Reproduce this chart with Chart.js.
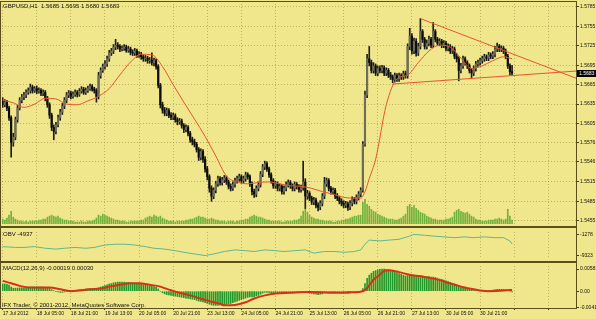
<!DOCTYPE html>
<html><head><meta charset="utf-8">
<title>GBPUSD,H1</title>
<script src="https://cdn.jsdelivr.net/npm/chart.js@4.4.1/dist/chart.umd.min.js"></script>
<style>
html,body{margin:0;padding:0;background:#F0E68C;}
#wrap{position:relative;width:596px;height:319px;overflow:hidden;background:#F0E68C;font-family:"Liberation Sans",Arial,sans-serif;}
#wrap canvas{position:absolute;left:0;}
.t{position:absolute;font-size:6px;line-height:7px;color:#111;white-space:pre;}
.ln{position:absolute;background:#5b4e1a;}
#pbox{position:absolute;left:577px;width:19px;height:7px;background:#000;color:#fff;font-size:5px;line-height:7px;padding-left:2px;box-sizing:border-box;white-space:pre;}
</style></head>
<body>
<div id="wrap">
 <canvas id="cMain" width="596" height="228" style="top:0px"></canvas>
 <canvas id="cObv" width="596" height="34" style="top:228px"></canvas>
 <canvas id="cMacd" width="596" height="57" style="top:262px"></canvas>
 <div class="ln" style="left:0;top:1px;width:577px;height:1px"></div>
 <div class="ln" style="left:0;top:1px;width:1px;height:308px"></div>
 <div class="ln" style="left:0;top:226px;width:577px;height:2px"></div>
 <div class="ln" style="left:0;top:261px;width:577px;height:2px"></div>
 <div class="ln" style="left:0;top:308px;width:577px;height:1px"></div>
 <div class="ln" style="left:576px;top:1px;width:1px;height:308px"></div>
 <div class="t" id="tMain" style="left:3px;top:3px"></div>
 <div class="t" id="tObv" style="left:3px;top:231px"></div>
 <div class="t" id="tMacd" style="left:3px;top:265px"></div>
 <div class="t" style="left:2px;top:302px">IFX Trader, © 2001-2012, MetaQuotes Software Corp.</div>
 <div id="pbox"></div>
</div>
<script>
// ---------------- DATA ----------------
const symbolName = "GBPUSD,H1";
const timeBars = [0,16,32,48,64,80,96,112,128,144,160,176,192,208,224];
const timeLabels = ["17 Jul 2012","18 Jul 05:00","18 Jul 21:00","19 Jul 13:00","20 Jul 05:00","20 Jul 21:00","23 Jul 13:00","24 Jul 05:00","24 Jul 21:00","25 Jul 13:00","26 Jul 05:00","26 Jul 21:00","27 Jul 13:00","30 Jul 05:00","30 Jul 21:00"];
const gridBars = [0,16,32,48,64,80,96,112,128,144,160,176,192,208,224,240,256];
const priceTicks = [1.5785,1.5755,1.5725,1.5695,1.5665,1.5635,1.5605,1.5576,1.5546,1.5515,1.5485,1.5455];
const obvTicks = [-1278,-9323];
const macdTicks = [0.00581,0,-0.00419];

const open = [
1.5640,1.5634,1.5638,1.5629,1.5614,1.5576,1.5584,1.5611,1.5629,1.5641,
1.5646,1.5649,1.5653,1.5656,1.5661,1.5656,1.5659,1.5655,1.5656,1.5652,
1.5653,1.5644,1.5634,1.5618,1.5599,1.5593,1.5603,1.5614,1.5623,1.5632,
1.5641,1.5649,1.5652,1.5647,1.5650,1.5653,1.5650,1.5655,1.5658,1.5653,
1.5656,1.5659,1.5662,1.5658,1.5656,1.5647,1.5679,1.5687,1.5693,1.5697,
1.5705,1.5714,1.5717,1.5723,1.5726,1.5724,1.5720,1.5721,1.5723,1.5718,
1.5720,1.5715,1.5714,1.5717,1.5711,1.5712,1.5708,1.5705,1.5706,1.5702,
1.5703,1.5699,1.5702,1.5693,1.5664,1.5634,1.5626,1.5621,1.5625,1.5618,
1.5615,1.5617,1.5611,1.5608,1.5609,1.5602,1.5596,1.5599,1.5590,1.5580,
1.5577,1.5573,1.5565,1.5553,1.5562,1.5550,1.5535,1.5523,1.5505,1.5493,
1.5502,1.5512,1.5520,1.5514,1.5518,1.5521,1.5515,1.5508,1.5505,1.5511,
1.5517,1.5520,1.5523,1.5517,1.5520,1.5526,1.5523,1.5512,1.5500,1.5496,
1.5505,1.5511,1.5527,1.5538,1.5543,1.5535,1.5526,1.5517,1.5509,1.5512,
1.5505,1.5508,1.5500,1.5505,1.5511,1.5514,1.5509,1.5505,1.5511,1.5508,
1.5503,1.5506,1.5515,1.5493,1.5497,1.5490,1.5484,1.5487,1.5479,1.5476,
1.5482,1.5493,1.5512,1.5517,1.5505,1.5500,1.5502,1.5493,1.5490,1.5485,
1.5482,1.5479,1.5481,1.5476,1.5482,1.5488,1.5485,1.5491,1.5496,1.5502,
1.5573,1.5649,1.5705,1.5699,1.5687,1.5694,1.5683,1.5690,1.5687,1.5691,
1.5683,1.5687,1.5680,1.5677,1.5673,1.5679,1.5674,1.5679,1.5677,1.5682,
1.5679,1.5724,1.5740,1.5717,1.5732,1.5714,1.5724,1.5747,1.5735,1.5724,
1.5729,1.5735,1.5726,1.5747,1.5735,1.5729,1.5732,1.5726,1.5729,1.5721,
1.5724,1.5717,1.5720,1.5709,1.5705,1.5687,1.5694,1.5705,1.5699,1.5694,
1.5687,1.5683,1.5690,1.5697,1.5699,1.5702,1.5705,1.5708,1.5706,1.5711,
1.5709,1.5712,1.5720,1.5724,1.5720,1.5721,1.5717,1.5709,1.5694,1.5685];

const high = [
1.5645,1.5642,1.5641,1.5632,1.5617,1.5590,1.5615,1.5633,1.5645,1.5650,
1.5653,1.5657,1.5660,1.5666,1.5664,1.5662,1.5663,1.5660,1.5659,1.5657,
1.5656,1.5647,1.5637,1.5621,1.5603,1.5607,1.5618,1.5627,1.5636,1.5645,
1.5653,1.5656,1.5655,1.5654,1.5657,1.5656,1.5659,1.5662,1.5661,1.5660,
1.5663,1.5666,1.5665,1.5661,1.5659,1.5684,1.5691,1.5697,1.5702,1.5709,
1.5718,1.5721,1.5727,1.5735,1.5730,1.5727,1.5725,1.5727,1.5726,1.5724,
1.5723,1.5719,1.5721,1.5720,1.5716,1.5715,1.5711,1.5710,1.5709,1.5707,
1.5714,1.5706,1.5705,1.5696,1.5667,1.5638,1.5630,1.5629,1.5628,1.5622,
1.5621,1.5620,1.5614,1.5613,1.5612,1.5605,1.5603,1.5602,1.5593,1.5584,
1.5581,1.5576,1.5568,1.5566,1.5565,1.5554,1.5539,1.5526,1.5509,1.5506,
1.5516,1.5524,1.5523,1.5522,1.5525,1.5524,1.5518,1.5512,1.5515,1.5521,
1.5524,1.5527,1.5526,1.5524,1.5530,1.5529,1.5526,1.5515,1.5504,1.5509,
1.5515,1.5531,1.5542,1.5547,1.5546,1.5538,1.5529,1.5520,1.5516,1.5515,
1.5512,1.5511,1.5509,1.5515,1.5518,1.5517,1.5512,1.5515,1.5514,1.5511,
1.5510,1.5547,1.5520,1.5502,1.5500,1.5493,1.5491,1.5490,1.5483,1.5486,
1.5497,1.5522,1.5521,1.5520,1.5508,1.5506,1.5505,1.5497,1.5493,1.5489,
1.5486,1.5485,1.5484,1.5486,1.5492,1.5491,1.5495,1.5500,1.5506,1.5577,
1.5655,1.5712,1.5724,1.5703,1.5699,1.5697,1.5694,1.5694,1.5695,1.5694,
1.5691,1.5690,1.5684,1.5680,1.5683,1.5682,1.5683,1.5682,1.5686,1.5686,
1.5728,1.5752,1.5744,1.5737,1.5736,1.5729,1.5767,1.5750,1.5738,1.5734,
1.5740,1.5738,1.5761,1.5750,1.5738,1.5736,1.5735,1.5733,1.5732,1.5728,
1.5727,1.5724,1.5723,1.5713,1.5708,1.5698,1.5709,1.5708,1.5702,1.5697,
1.5690,1.5694,1.5701,1.5703,1.5706,1.5709,1.5712,1.5711,1.5715,1.5714,
1.5716,1.5724,1.5729,1.5727,1.5725,1.5724,1.5720,1.5712,1.5697,1.5695];

const low = [
1.5630,1.5631,1.5625,1.5610,1.5553,1.5570,1.5580,1.5607,1.5626,1.5637,
1.5642,1.5645,1.5650,1.5652,1.5652,1.5653,1.5651,1.5652,1.5648,1.5648,
1.5640,1.5630,1.5613,1.5594,1.5580,1.5589,1.5600,1.5610,1.5619,1.5628,
1.5637,1.5645,1.5643,1.5644,1.5647,1.5646,1.5647,1.5652,1.5650,1.5650,
1.5653,1.5656,1.5655,1.5652,1.5638,1.5643,1.5675,1.5684,1.5689,1.5693,
1.5701,1.5710,1.5713,1.5719,1.5720,1.5716,1.5717,1.5718,1.5715,1.5715,
1.5711,1.5710,1.5710,1.5707,1.5707,1.5704,1.5701,1.5701,1.5698,1.5698,
1.5695,1.5694,1.5689,1.5660,1.5629,1.5621,1.5617,1.5617,1.5614,1.5611,
1.5611,1.5607,1.5603,1.5604,1.5598,1.5591,1.5592,1.5586,1.5576,1.5572,
1.5569,1.5561,1.5548,1.5549,1.5545,1.5530,1.5518,1.5499,1.5485,1.5489,
1.5498,1.5508,1.5510,1.5510,1.5514,1.5511,1.5504,1.5501,1.5502,1.5507,
1.5513,1.5516,1.5513,1.5513,1.5516,1.5519,1.5508,1.5495,1.5491,1.5492,
1.5501,1.5507,1.5523,1.5534,1.5531,1.5522,1.5513,1.5505,1.5505,1.5501,
1.5501,1.5496,1.5496,1.5501,1.5507,1.5505,1.5501,1.5501,1.5504,1.5499,
1.5499,1.5502,1.5474,1.5488,1.5486,1.5480,1.5480,1.5475,1.5470,1.5472,
1.5478,1.5489,1.5508,1.5501,1.5496,1.5496,1.5489,1.5486,1.5481,1.5478,
1.5475,1.5475,1.5471,1.5472,1.5478,1.5481,1.5481,1.5487,1.5492,1.5499,
1.5570,1.5645,1.5694,1.5683,1.5683,1.5679,1.5679,1.5683,1.5683,1.5679,
1.5679,1.5676,1.5673,1.5668,1.5669,1.5670,1.5670,1.5673,1.5673,1.5675,
1.5675,1.5719,1.5712,1.5713,1.5709,1.5710,1.5720,1.5730,1.5720,1.5720,
1.5725,1.5722,1.5722,1.5731,1.5725,1.5725,1.5722,1.5722,1.5717,1.5717,
1.5713,1.5713,1.5705,1.5700,1.5671,1.5683,1.5690,1.5695,1.5690,1.5683,
1.5676,1.5679,1.5686,1.5693,1.5695,1.5698,1.5701,1.5702,1.5702,1.5705,
1.5705,1.5708,1.5716,1.5716,1.5716,1.5713,1.5705,1.5690,1.5680,1.5680];

const close = [
1.5634,1.5638,1.5629,1.5614,1.5576,1.5584,1.5611,1.5629,1.5641,1.5646,
1.5649,1.5653,1.5656,1.5661,1.5656,1.5659,1.5655,1.5656,1.5652,1.5653,
1.5644,1.5634,1.5618,1.5599,1.5593,1.5603,1.5614,1.5623,1.5632,1.5641,
1.5649,1.5652,1.5647,1.5650,1.5653,1.5650,1.5655,1.5658,1.5653,1.5656,
1.5659,1.5662,1.5658,1.5656,1.5647,1.5679,1.5687,1.5693,1.5697,1.5705,
1.5714,1.5717,1.5723,1.5726,1.5724,1.5720,1.5721,1.5723,1.5718,1.5720,
1.5715,1.5714,1.5717,1.5711,1.5712,1.5708,1.5705,1.5706,1.5702,1.5703,
1.5699,1.5702,1.5693,1.5664,1.5634,1.5626,1.5621,1.5625,1.5618,1.5615,
1.5617,1.5611,1.5608,1.5609,1.5602,1.5596,1.5599,1.5590,1.5580,1.5577,
1.5573,1.5565,1.5553,1.5562,1.5550,1.5535,1.5523,1.5505,1.5493,1.5502,
1.5512,1.5520,1.5514,1.5518,1.5521,1.5515,1.5508,1.5505,1.5511,1.5517,
1.5520,1.5523,1.5517,1.5520,1.5526,1.5523,1.5512,1.5500,1.5496,1.5505,
1.5511,1.5527,1.5538,1.5543,1.5535,1.5526,1.5517,1.5509,1.5512,1.5505,
1.5508,1.5500,1.5505,1.5511,1.5514,1.5509,1.5505,1.5511,1.5508,1.5503,
1.5506,1.5515,1.5493,1.5497,1.5490,1.5484,1.5487,1.5479,1.5476,1.5482,
1.5493,1.5512,1.5517,1.5505,1.5500,1.5502,1.5493,1.5490,1.5485,1.5482,
1.5479,1.5481,1.5476,1.5482,1.5488,1.5485,1.5491,1.5496,1.5502,1.5573,
1.5649,1.5705,1.5699,1.5687,1.5694,1.5683,1.5690,1.5687,1.5691,1.5683,
1.5687,1.5680,1.5677,1.5673,1.5679,1.5674,1.5679,1.5677,1.5682,1.5679,
1.5724,1.5740,1.5717,1.5732,1.5714,1.5724,1.5747,1.5735,1.5724,1.5729,
1.5735,1.5726,1.5747,1.5735,1.5729,1.5732,1.5726,1.5729,1.5721,1.5724,
1.5717,1.5720,1.5709,1.5705,1.5687,1.5694,1.5705,1.5699,1.5694,1.5687,
1.5683,1.5690,1.5697,1.5699,1.5702,1.5705,1.5708,1.5706,1.5711,1.5709,
1.5712,1.5720,1.5724,1.5720,1.5721,1.5717,1.5709,1.5694,1.5685,1.5683];

const volume = [
500,400,600,900,1300,700,500,400,300,300,
200,300,200,300,300,300,300,400,400,500,
500,700,800,900,800,700,800,600,500,400,
400,300,300,300,200,200,200,300,200,200,
300,300,300,400,600,900,800,1000,900,800,
700,600,500,400,400,300,300,300,200,200,
300,300,300,300,300,400,400,600,700,800,
700,900,800,700,800,600,500,400,300,300,
300,200,300,300,300,300,400,400,500,500,
600,700,800,700,700,600,500,500,600,500,
400,400,300,300,300,200,300,300,300,200,
300,300,400,400,500,500,700,800,900,800,
700,700,600,500,400,400,300,300,300,300,
300,200,200,300,300,300,300,400,400,500,
800,1300,1600,1200,900,700,600,500,500,400,
400,300,300,300,300,200,200,300,300,400,
400,500,500,600,700,800,800,900,900,2200,
2500,2000,1800,1500,1300,1200,1000,900,800,700,
600,500,500,500,400,400,500,600,800,1000,
1800,2000,1700,1900,1600,1400,1200,1100,1000,800,
700,600,500,500,400,400,400,400,500,500,
600,700,1200,1400,1500,1300,1200,1100,1200,1000,
800,700,500,400,400,300,300,300,400,400,
400,500,500,600,500,400,500,1500,800,400];

// moving average on the price chart (read at selected bars)
const maBars = [0,5,10,15,20,25,30,35,40,45,50,55,60,65,70,75,80,85,90,95,100,105,110,115,120,125,130,135,140,145,150,155,160,165,168,170,172,175,180,185,190,195,200,205,210,215,220,225,230,235,239];
const maValues = [1.5641,1.5637,1.5630,1.5635,1.5644,1.5643,1.5635,1.5634,1.5640,1.5647,
1.5659,1.5680,1.5700,1.5712,1.5711,1.5693,1.5665,1.5638,1.5612,1.5585,
1.5555,1.5524,1.5515,1.5512,1.5514,1.5515,1.5512,1.5509,1.5508,1.5505,
1.5500,1.5496,1.5491,1.5490,1.5490,1.5500,1.5520,1.5550,1.5634,1.5674,
1.5680,1.5699,1.5717,1.5726,1.5723,1.5706,1.5690,1.5694,1.5702,1.5708,1.5705];

// triangle trend lines (anchor bar, price)
const trendUpperBars = [196,269];
const trendUpperPrices = [1.5767,1.5675];
const trendLowerBars = [183,269];
const trendLowerPrices = [1.5666,1.5686];

// OBV (read at selected bars)
const obvBars = [0,6,10,15,20,25,29,34,39,43,48,53,57,62,67,71,76,81,85,90,95,99,104,109,114,118,123,128,132,137,142,146,151,156,160,165,168,170,172,177,181,186,191,193,198,202,207,212,217,221,226,231,235,238,239];
const obvValues = [-5919,-6228,-6228,-5919,-6538,-6847,-6538,-6228,-6538,-6228,
-5300,-4991,-4991,-5300,-5919,-6538,-6847,-7466,-8085,-8704,
-9323,-8704,-7775,-7157,-7466,-7775,-7157,-7466,-7775,-7466,
-7157,-8394,-7775,-7775,-8085,-7775,-7157,-4991,-3444,-3753,
-3444,-3134,-1897,-1278,-1587,-1897,-2206,-2516,-2206,-2516,
-2206,-2516,-2516,-3753,-4937];

// MACD(12,26,9) main (histogram) per bar
const macdMain = [
0.0019,0.0019,0.0018,0.0016,0.0011,0.0008,0.0008,0.0008,0.0009,0.0009,
0.0009,0.0010,0.0010,0.0011,0.0011,0.0011,0.0011,0.0011,0.0011,0.0011,
0.0010,0.0010,0.0008,0.0004,0.0001,-0.0001,-0.0002,-0.0003,-0.0003,-0.0002,
-0.0001,0.0000,0.0001,0.0001,0.0002,0.0003,0.0004,0.0005,0.0005,0.0006,
0.0006,0.0007,0.0007,0.0007,0.0006,0.0009,0.0011,0.0013,0.0015,0.0017,
0.0019,0.0020,0.0022,0.0023,0.0024,0.0024,0.0024,0.0024,0.0023,0.0023,
0.0022,0.0021,0.0021,0.0020,0.0019,0.0018,0.0017,0.0016,0.0015,0.0014,
0.0013,0.0012,0.0010,0.0006,0.0000,-0.0004,-0.0007,-0.0009,-0.0010,-0.0011,
-0.0012,-0.0013,-0.0014,-0.0015,-0.0016,-0.0017,-0.0018,-0.0019,-0.0020,-0.0021,
-0.0022,-0.0024,-0.0026,-0.0027,-0.0028,-0.0030,-0.0032,-0.0034,-0.0036,-0.0037,
-0.0037,-0.0037,-0.0036,-0.0036,-0.0035,-0.0034,-0.0033,-0.0032,-0.0030,-0.0028,
-0.0026,-0.0024,-0.0022,-0.0020,-0.0018,-0.0016,-0.0015,-0.0015,-0.0014,-0.0012,
-0.0011,-0.0008,-0.0005,-0.0003,-0.0003,-0.0003,-0.0004,-0.0005,-0.0005,-0.0005,
-0.0005,-0.0005,-0.0005,-0.0004,-0.0003,-0.0003,-0.0003,-0.0002,-0.0002,-0.0002,
-0.0002,-0.0001,-0.0003,-0.0004,-0.0005,-0.0006,-0.0007,-0.0008,-0.0009,-0.0008,
-0.0007,-0.0004,-0.0002,-0.0002,-0.0002,-0.0002,-0.0003,-0.0003,-0.0004,-0.0005,
-0.0005,-0.0005,-0.0006,-0.0005,-0.0004,-0.0004,-0.0003,-0.0002,-0.0001,0.0007,
0.0020,0.0034,0.0042,0.0047,0.0052,0.0054,0.0056,0.0057,0.00581,0.0058,
0.0057,0.0056,0.0054,0.0052,0.0050,0.0048,0.0046,0.0044,0.0042,0.0040,
0.0041,0.0042,0.0041,0.0041,0.0040,0.0040,0.0041,0.0040,0.0039,0.0038,
0.0038,0.0037,0.0037,0.0036,0.0034,0.0032,0.0031,0.0029,0.0027,0.0025,
0.0023,0.0021,0.0019,0.0017,0.0014,0.0012,0.0011,0.0010,0.0008,0.0006,
0.0004,0.0003,0.0002,0.0002,0.0001,0.0001,0.0001,0.0001,0.0002,0.0002,
0.0003,0.0004,0.0005,0.0005,0.0005,0.0005,0.0004,0.0002,0.0000,-0.00019];

// MACD signal line (read at selected bars)
const signalBars = [0,4,8,13,17,22,27,32,36,41,46,50,55,60,64,69,74,78,83,88,92,97,102,104,109,114,118,123,128,135,144,153,163,167,170,172,174,177,179,181,186,191,196,200,205,209,214,219,224,228,233,238,239];
const signalValues = [0.0027,0.0021,0.0014,0.0010,0.0010,0.0010,0.0005,0.0000,0.0002,0.0005,
0.0007,0.0012,0.0017,0.0021,0.0021,0.0017,0.0012,0.0004,-0.0004,-0.0011,
-0.0018,-0.0026,-0.0033,-0.0037,-0.0036,-0.0029,-0.0019,-0.0011,-0.0006,-0.0004,
-0.0002,-0.0004,-0.0003,-0.0002,0.0003,0.0015,0.0030,0.0043,0.0053,0.0055,
0.0050,0.0043,0.0039,0.0035,0.0029,0.0022,0.0014,0.0007,0.0002,0.0000,
0.0001,0.0003,0.0003];

// ---------------- STYLE ----------------
const FONT = "'Liberation Sans', Arial, sans-serif";
const GRID_COLOR = 'rgba(130,112,40,0.45)';
const AXIS_COLOR = '#4a4018';
const TEXT_COLOR = '#111';
const MA_COLOR = '#e4572e';
const TREND_COLOR = '#e4572e';
const WICK_COLOR = '#1e1e18';
const BULL_COLOR = '#6e6c5a';
const BEAR_COLOR = '#0c0c0c';
const VOL_COLOR = '#72b23c';
const OBV_COLOR = '#5fb88c';
const HIST_COLOR = '#22992a';
const SIGNAL_COLOR = '#d8301a';
const X_MIN = -0.3, X_MAX = 269;

const bars = close.map((_, i) => i);
const last = close.length - 1;

function xAxis(showLabels) {
  return {
    type: 'linear', min: X_MIN, max: X_MAX, offset: false,
    afterBuildTicks: s => { s.ticks = gridBars.map(v => ({ value: v })); },
    afterFit: s => { s.height = showLabels ? 11 : 0; },
    grid: { display: true, offset: false, color: GRID_COLOR, lineWidth: 1, drawTicks: showLabels, tickLength: 2, tickColor: AXIS_COLOR, tickWidth: 1 },
    border: { display: false, dash: [1, 2] },
    ticks: {
      display: showLabels, autoSkip: false, maxRotation: 0, minRotation: 0, align: 'start', padding: 1,
      color: TEXT_COLOR, font: { size: 5, family: FONT },
      callback: v => { const k = timeBars.indexOf(v); return k >= 0 ? timeLabels[k] : ''; }
    }
  };
}
function yAxis(min, max, tickVals, fmt, gridOn) {
  return {
    position: 'right', min: min, max: max, beginAtZero: false,
    afterBuildTicks: s => { s.ticks = tickVals.map(v => ({ value: v })); },
    afterFit: s => { s.width = 20; },
    grid: { display: true, drawOnChartArea: gridOn, color: GRID_COLOR, drawTicks: true, tickLength: 3, tickColor: AXIS_COLOR, tickWidth: 1 },
    border: { display: true, color: AXIS_COLOR, width: 1, dash: [1, 2] },
    ticks: { padding: 1, color: TEXT_COLOR, font: { size: 5, family: FONT }, autoSkip: false, callback: fmt }
  };
}
const common = { responsive: false, animation: false, events: [], plugins: { legend: { display: false }, tooltip: { enabled: false } } };

// ---------------- MAIN PRICE CHART ----------------
const mainChart = new Chart(document.getElementById('cMain'), {
  type: 'bar',
  data: { datasets: [
    { type: 'line', data: maBars.map((b, k) => ({ x: b, y: maValues[k] })), borderColor: MA_COLOR, borderWidth: 1, pointRadius: 0, cubicInterpolationMode: 'monotone', order: 0, yAxisID: 'y' },
    { type: 'line', data: trendUpperBars.map((b, k) => ({ x: b, y: trendUpperPrices[k] })), borderColor: TREND_COLOR, borderWidth: 1, pointRadius: 0, order: 0, yAxisID: 'y' },
    { type: 'line', data: trendLowerBars.map((b, k) => ({ x: b, y: trendLowerPrices[k] })), borderColor: TREND_COLOR, borderWidth: 1, pointRadius: 0, order: 0, yAxisID: 'y' },
    { type: 'bar', data: bars.map(i => ({ x: i, y: [open[i], close[i]] })), backgroundColor: bars.map(i => close[i] >= open[i] ? BULL_COLOR : BEAR_COLOR), barThickness: 1.5, grouped: false, order: 2, yAxisID: 'y' },
    { type: 'bar', data: bars.map(i => ({ x: i, y: [low[i], high[i]] })), backgroundColor: WICK_COLOR, barThickness: 1, grouped: false, order: 3, yAxisID: 'y' },
    { type: 'bar', data: bars.map(i => ({ x: i, y: volume[i] })), backgroundColor: VOL_COLOR, barThickness: 1, grouped: false, order: 4, yAxisID: 'yv' }
  ]},
  options: Object.assign({}, common, {
    layout: { padding: { left: 2, top: 2, right: 0, bottom: 2 } },
    scales: {
      x: xAxis(false),
      y: yAxis(1.5450, 1.57895, priceTicks, v => v.toFixed(4), true),
      yv: { display: false, min: 0, max: 22400 }
    }
  })
});

// ---------------- OBV ----------------
new Chart(document.getElementById('cObv'), {
  type: 'line',
  data: { datasets: [
    { data: obvBars.map((b, k) => ({ x: b, y: obvValues[k] })), borderColor: OBV_COLOR, borderWidth: 1, pointRadius: 0 }
  ]},
  options: Object.assign({}, common, {
    layout: { padding: { left: 2, top: 1, right: 0, bottom: 1 } },
    scales: { x: xAxis(false), y: yAxis(-10250, -350, obvTicks, v => String(v), false) }
  })
});

// ---------------- MACD ----------------
new Chart(document.getElementById('cMacd'), {
  type: 'bar',
  data: { datasets: [
    { type: 'line', data: signalBars.map((b, k) => ({ x: b, y: signalValues[k] })), borderColor: SIGNAL_COLOR, borderWidth: 2, pointRadius: 0, cubicInterpolationMode: 'monotone', order: 0 },
    { type: 'bar', data: bars.map(i => ({ x: i, y: macdMain[i] })), backgroundColor: HIST_COLOR, barThickness: 1, grouped: false, order: 1 }
  ]},
  options: Object.assign({}, common, {
    layout: { padding: { left: 2, top: 1, right: 0, bottom: 0 } },
    scales: { x: xAxis(true), y: yAxis(-0.0044, 0.0066, macdTicks, v => v === 0 ? '0.00' : v.toFixed(5), false) }
  })
});

// ---------------- TEXTS ----------------
document.getElementById('tMain').textContent = symbolName + '  ' + open[last].toFixed(4) + ' ' + high[last].toFixed(4) + ' ' + low[last].toFixed(4) + ' ' + close[last].toFixed(4);
document.getElementById('tObv').textContent = 'OBV ' + obvValues[obvValues.length - 1];
document.getElementById('tMacd').textContent = 'MACD(12,26,9) ' + macdMain[last].toFixed(5) + ' ' + signalValues[signalValues.length - 1].toFixed(5);
const pbox = document.getElementById('pbox');
pbox.textContent = close[last].toFixed(4);
pbox.style.top = (mainChart.scales.y.getPixelForValue(close[last]) - 3.5) + 'px';
</script>
</body></html>
